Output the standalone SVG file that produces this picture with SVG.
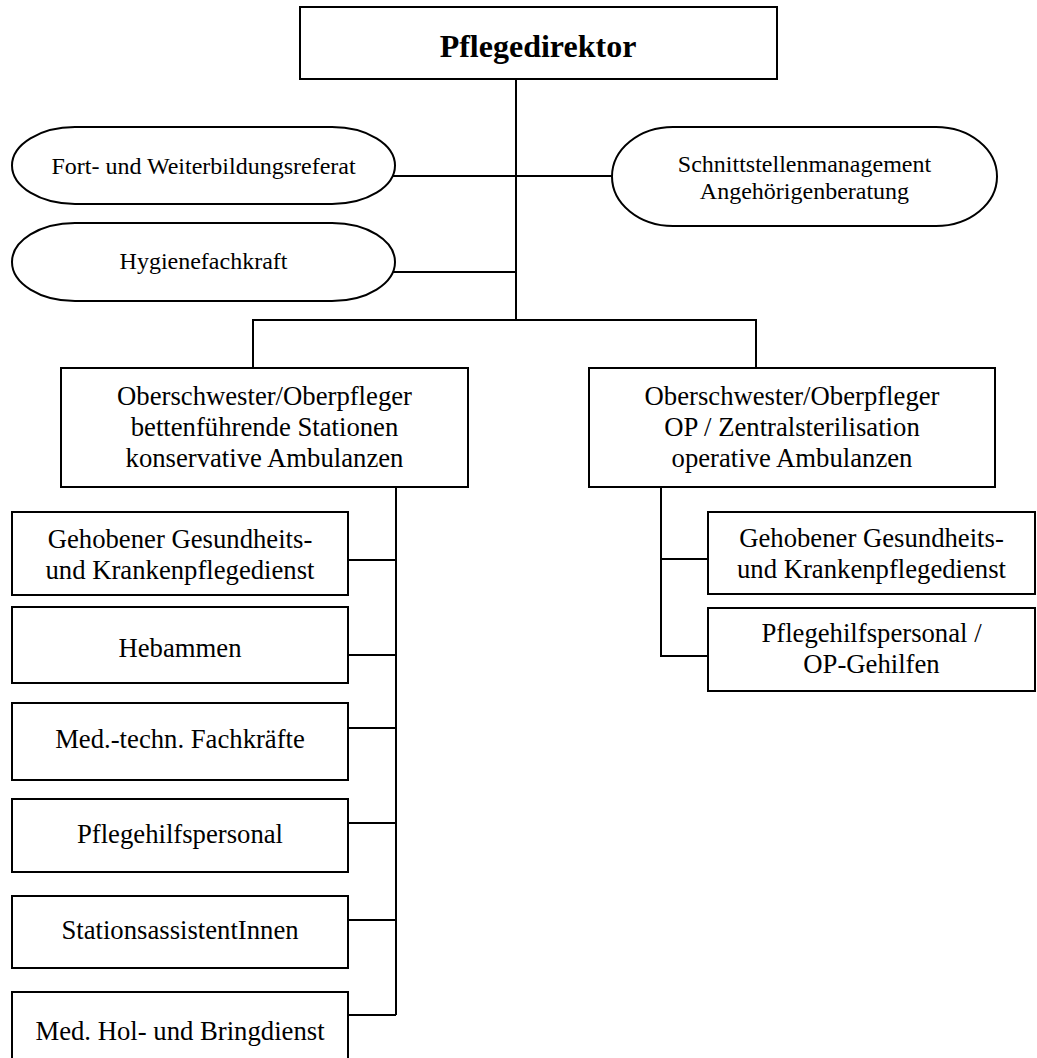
<svg xmlns="http://www.w3.org/2000/svg" width="1037" height="1058" viewBox="0 0 1037 1058">
<style>
.box{fill:#fff;stroke:#000;stroke-width:2}
.ln{fill:none;stroke:#000;stroke-width:2}
.t{font-family:"Liberation Serif","Times New Roman",serif;font-size:26.7px;fill:#000;text-anchor:middle}
.s{font-size:24px}
.b{font-size:32px;font-weight:bold}
</style>
<rect width="1037" height="1058" fill="#fff"/>
<g id="connectors">
<path class="ln" d="M516,79V320M393,176H612M393,272H516M253,368V320H756V368"/>
<path class="ln" d="M396,487V1015M348,560H396M348,655H396M348,728H396M348,823H396M348,920H396M348,1015H396"/>
<path class="ln" d="M661,487V656H708M661,559H708"/>
</g>
<g id="n-pflegedirektor"><rect class="box" x="300" y="7" width="477" height="72"/><text class="t b" x="538" y="57">Pflegedirektor</text></g>
<g id="n-fort"><rect class="box" x="12" y="127" width="383" height="77" rx="63" ry="38.5"/><text class="t s" x="203.5" y="174">Fort- und Weiterbildungsreferat</text></g>
<g id="n-hygiene"><rect class="box" x="12" y="223" width="383" height="78" rx="63" ry="39"/><text class="t s" x="203.5" y="269">Hygienefachkraft</text></g>
<g id="n-schnitt"><rect class="box" x="612" y="127" width="385" height="99" rx="61" ry="49.5"/><text class="t s" x="804.5" y="172">Schnittstellenmanagement</text><text class="t s" x="804.5" y="199">Angehörigenberatung</text></g>
<g id="n-os-left"><rect class="box" x="61" y="368" width="407" height="119"/><text class="t" x="264.5" y="405">Oberschwester/Oberpfleger</text><text class="t" x="264.5" y="436">bettenführende Stationen</text><text class="t" x="264.5" y="467">konservative Ambulanzen</text></g>
<g id="n-os-right"><rect class="box" x="589" y="368" width="406" height="119"/><text class="t" x="792" y="405">Oberschwester/Oberpfleger</text><text class="t" x="792" y="436">OP / Zentralsterilisation</text><text class="t" x="792" y="467">operative Ambulanzen</text></g>
<g id="n-l1"><rect class="box" x="12" y="512" width="336" height="83"/><text class="t" x="180" y="548">Gehobener Gesundheits-</text><text class="t" x="180" y="579">und Krankenpflegedienst</text></g>
<g id="n-l2"><rect class="box" x="12" y="607" width="336" height="76"/><text class="t" x="180" y="657">Hebammen</text></g>
<g id="n-l3"><rect class="box" x="12" y="703" width="336" height="77"/><text class="t" x="180" y="748">Med.-techn. Fachkräfte</text></g>
<g id="n-l4"><rect class="box" x="12" y="799" width="336" height="73"/><text class="t" x="180" y="843">Pflegehilfspersonal</text></g>
<g id="n-l5"><rect class="box" x="12" y="896" width="336" height="72"/><text class="t" x="180" y="939">StationsassistentInnen</text></g>
<g id="n-l6"><rect class="box" x="12" y="992" width="336" height="80"/><text class="t" x="180" y="1040">Med. Hol- und Bringdienst</text></g>
<g id="n-r1"><rect class="box" x="708" y="512" width="327" height="82"/><text class="t" x="871.5" y="547">Gehobener Gesundheits-</text><text class="t" x="871.5" y="578">und Krankenpflegedienst</text></g>
<g id="n-r2"><rect class="box" x="708" y="608" width="327" height="83"/><text class="t" x="871.5" y="642">Pflegehilfspersonal /</text><text class="t" x="871.5" y="673">OP-Gehilfen</text></g>
</svg>
